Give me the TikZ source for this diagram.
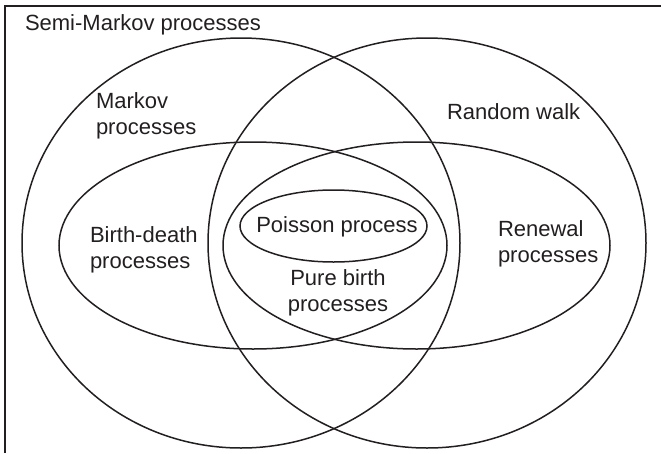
\documentclass[tikz,border=0pt]{standalone}
\usepackage{fontspec}
\setmainfont{Liberation Sans}
\usetikzlibrary{shapes.geometric}
\definecolor{ink}{RGB}{35,31,32}
\begin{document}
\begin{tikzpicture}[x=1pt,y=-1pt,
  set/.style={ellipse, draw=ink, line width=1.5pt, inner sep=0pt, outer sep=0pt},
  lbl/.style={inner sep=0pt, outer sep=0pt, text=ink, font=\fontsize{22}{25.5}\selectfont}]
\useasboundingbox (0,0) rectangle (661,453);
% frame
\coordinate (fbl) at (5,453);
\coordinate (ftl) at (5,6);
\coordinate (ftr) at (661,6);
\draw[ink, line width=1.6pt] (fbl) -- (ftl) -- (ftr);
% sets
\node[set, minimum width=438pt, minimum height=410pt] (markov) at (241,243) {};
\node[set, minimum width=438pt, minimum height=410pt] (walk) at (427,243) {};
\node[set, minimum width=388pt, minimum height=207pt] (bd) at (253,245.5) {};
\node[set, minimum width=387pt, minimum height=207pt] (renewal) at (416.5,245.5) {};
\node[set, minimum width=187pt, minimum height=72pt] (poisson) at (333.5,226) {};
% labels
\node[lbl, anchor=base west] (title) at (25,30) {Semi-Markov processes};
\node[lbl, anchor=west, align=left] (lmarkov) at (96,116) {Markov\\processes};
\node[lbl, anchor=base west] (lwalk) at (447,119) {Random walk};
\node[lbl, anchor=west, align=left] (lbd) at (90,250) {Birth-death\\processes};
\node[lbl, anchor=base] (lpoisson) at (337,232) {Poisson process};
\node[lbl, align=center] (lpure) at (338,293) {Pure birth\\processes};
\node[lbl, anchor=west, align=left] (lrenewal) at (498,244) {Renewal\\processes};
\end{tikzpicture}
\end{document}
